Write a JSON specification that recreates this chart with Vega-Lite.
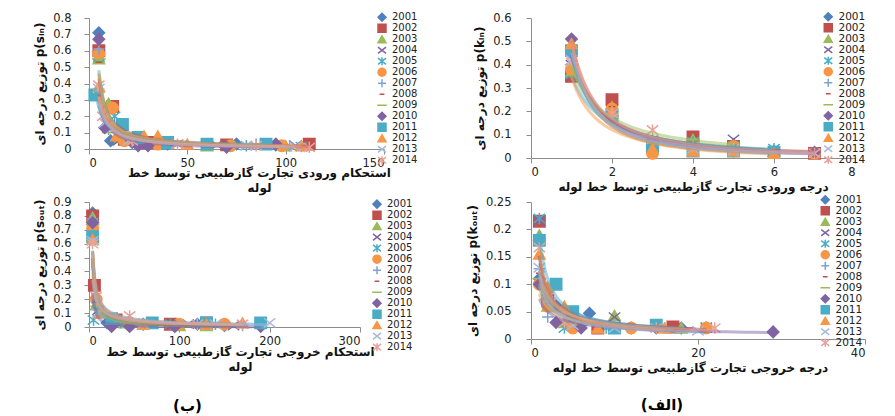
{
  "$schema": "https://vega.github.io/schema/vega-lite/v6.json",
  "background": "white",
  "padding": {"left": 33, "top": 11, "right": 0, "bottom": 0},
  "config": {
    "font": "DejaVu Sans",
    "view": {"stroke": null},
    "axis": {"grid": false, "domainColor": "#8c8c8c", "tickColor": "#8c8c8c", "tickSize": 5, "labelFont": "DejaVu Sans", "labelFontSize": 11.5, "labelColor": "#222", "labelOverlap": false, "titleFont": "DejaVu Sans", "titleFontSize": 12, "titleFontWeight": "bold", "titleColor": "#111", "format": "~r"},
    "axisX": {"labelPadding": 3, "titleLineHeight": 15},
    "axisY": {"labelPadding": 13, "titlePadding": 6},
    "legend": {"orient": "none", "title": null, "padding": 0, "labelFont": "DejaVu Sans", "labelFontSize": 10, "labelColor": "#222", "symbolSize": 64, "symbolStrokeWidth": 1.5, "rowPadding": 0, "clipHeight": 10.5, "labelOffset": 5},
    "title": {"font": "DejaVu Sans", "fontSize": 15, "fontWeight": "bold", "color": "#000"}
  },
  "datasets": {
    "a": [
      {"yr":"2001","x":5,"v":0.71},{"yr":"2001","x":11,"v":0.05},{"yr":"2001","x":22,"v":0.04},{"yr":"2001","x":40,"v":0.03},{"yr":"2001","x":75,"v":0.03},{"yr":"2001","x":95,"v":0.025},
      {"yr":"2002","x":5,"v":0.6},{"yr":"2002","x":12,"v":0.26},{"yr":"2002","x":18,"v":0.06},{"yr":"2002","x":30,"v":0.04},{"yr":"2002","x":70,"v":0.025},{"yr":"2002","x":112,"v":0.03},
      {"yr":"2003","x":5,"v":0.55},{"yr":"2003","x":10,"v":0.28},{"yr":"2003","x":16,"v":0.07},{"yr":"2003","x":28,"v":0.05},{"yr":"2003","x":60,"v":0.02},{"yr":"2003","x":100,"v":0.02},
      {"yr":"2004","x":5,"v":0.57},{"yr":"2004","x":9,"v":0.15},{"yr":"2004","x":15,"v":0.05},{"yr":"2004","x":32,"v":0.04},{"yr":"2004","x":65,"v":0.025},{"yr":"2004","x":105,"v":0.02},
      {"yr":"2005","x":5,"v":0.56},{"yr":"2005","x":13,"v":0.2},{"yr":"2005","x":20,"v":0.06},{"yr":"2005","x":38,"v":0.03},{"yr":"2005","x":80,"v":0.02},{"yr":"2005","x":108,"v":0.015},
      {"yr":"2006","x":5,"v":0.58},{"yr":"2006","x":12,"v":0.25},{"yr":"2006","x":18,"v":0.05},{"yr":"2006","x":35,"v":0.03},{"yr":"2006","x":72,"v":0.02},{"yr":"2006","x":98,"v":0.02},
      {"yr":"2007","x":5,"v":0.61},{"yr":"2007","x":10,"v":0.12},{"yr":"2007","x":22,"v":0.05},{"yr":"2007","x":42,"v":0.03},{"yr":"2007","x":85,"v":0.03},{"yr":"2007","x":102,"v":0.02},
      {"yr":"2008","x":5,"v":0.53},{"yr":"2008","x":10,"v":0.14},{"yr":"2008","x":20,"v":0.05},{"yr":"2008","x":40,"v":0.03},{"yr":"2008","x":80,"v":0.02},{"yr":"2008","x":110,"v":0.02},
      {"yr":"2009","x":5,"v":0.55},{"yr":"2009","x":10,"v":0.1},{"yr":"2009","x":18,"v":0.06},{"yr":"2009","x":35,"v":0.04},{"yr":"2009","x":70,"v":0.02},{"yr":"2009","x":100,"v":0.02},
      {"yr":"2010","x":5,"v":0.67},{"yr":"2010","x":8,"v":0.13},{"yr":"2010","x":25,"v":0.02},{"yr":"2010","x":30,"v":0.02},{"yr":"2010","x":70,"v":0.01},{"yr":"2010","x":95,"v":0.03},
      {"yr":"2011","x":3,"v":0.33},{"yr":"2011","x":17,"v":0.15},{"yr":"2011","x":25,"v":0.07},{"yr":"2011","x":40,"v":0.04},{"yr":"2011","x":60,"v":0.03},{"yr":"2011","x":90,"v":0.03},
      {"yr":"2012","x":5,"v":0.38},{"yr":"2012","x":14,"v":0.08},{"yr":"2012","x":28,"v":0.08},{"yr":"2012","x":35,"v":0.08},{"yr":"2012","x":50,"v":0.03},{"yr":"2012","x":108,"v":0.02},
      {"yr":"2013","x":5,"v":0.37},{"yr":"2013","x":8,"v":0.16},{"yr":"2013","x":20,"v":0.05},{"yr":"2013","x":45,"v":0.03},{"yr":"2013","x":80,"v":0.02},{"yr":"2013","x":105,"v":0.015},
      {"yr":"2014","x":5,"v":0.39},{"yr":"2014","x":7,"v":0.2},{"yr":"2014","x":22,"v":0.05},{"yr":"2014","x":45,"v":0.03},{"yr":"2014","x":85,"v":0.02},{"yr":"2014","x":112,"v":0.01}
    ],
    "b": [
      {"yr":"2001","x":1,"v":0.36},{"yr":"2001","x":2,"v":0.21},{"yr":"2001","x":3,"v":0.07},{"yr":"2001","x":4,"v":0.07},{"yr":"2001","x":5,"v":0.04},{"yr":"2001","x":6,"v":0.03},{"yr":"2001","x":7,"v":0.02},
      {"yr":"2002","x":1,"v":0.35},{"yr":"2002","x":2,"v":0.25},{"yr":"2002","x":3,"v":0.06},{"yr":"2002","x":4,"v":0.09},{"yr":"2002","x":5,"v":0.05},{"yr":"2002","x":7,"v":0.02},
      {"yr":"2003","x":1,"v":0.37},{"yr":"2003","x":2,"v":0.22},{"yr":"2003","x":3,"v":0.05},{"yr":"2003","x":4,"v":0.08},{"yr":"2003","x":5,"v":0.06},{"yr":"2003","x":6,"v":0.03},
      {"yr":"2004","x":1,"v":0.4},{"yr":"2004","x":2,"v":0.2},{"yr":"2004","x":3,"v":0.07},{"yr":"2004","x":4,"v":0.06},{"yr":"2004","x":5,"v":0.08},{"yr":"2004","x":6,"v":0.02},
      {"yr":"2005","x":1,"v":0.36},{"yr":"2005","x":2,"v":0.19},{"yr":"2005","x":3,"v":0.05},{"yr":"2005","x":4,"v":0.07},{"yr":"2005","x":5,"v":0.05},{"yr":"2005","x":6,"v":0.04},
      {"yr":"2006","x":1,"v":0.38},{"yr":"2006","x":2,"v":0.21},{"yr":"2006","x":3,"v":0.02},{"yr":"2006","x":4,"v":0.04},{"yr":"2006","x":5,"v":0.05},{"yr":"2006","x":7,"v":0.02},
      {"yr":"2007","x":1,"v":0.45},{"yr":"2007","x":2,"v":0.2},{"yr":"2007","x":3,"v":0.04},{"yr":"2007","x":4,"v":0.05},{"yr":"2007","x":5,"v":0.03},{"yr":"2007","x":6,"v":0.03},
      {"yr":"2008","x":1,"v":0.43},{"yr":"2008","x":2,"v":0.22},{"yr":"2008","x":3,"v":0.06},{"yr":"2008","x":4,"v":0.07},{"yr":"2008","x":5,"v":0.04},{"yr":"2008","x":6,"v":0.02},
      {"yr":"2009","x":1,"v":0.4},{"yr":"2009","x":2,"v":0.18},{"yr":"2009","x":3,"v":0.09},{"yr":"2009","x":4,"v":0.08},{"yr":"2009","x":5,"v":0.06},
      {"yr":"2010","x":1,"v":0.51},{"yr":"2010","x":2,"v":0.17},{"yr":"2010","x":3,"v":0.05},{"yr":"2010","x":4,"v":0.04},{"yr":"2010","x":5,"v":0.03},{"yr":"2010","x":7,"v":0.025},
      {"yr":"2011","x":1,"v":0.46},{"yr":"2011","x":2,"v":0.18},{"yr":"2011","x":3,"v":0.05},{"yr":"2011","x":4,"v":0.03},{"yr":"2011","x":5,"v":0.03},{"yr":"2011","x":6,"v":0.025},
      {"yr":"2012","x":1,"v":0.49},{"yr":"2012","x":2,"v":0.2},{"yr":"2012","x":3,"v":0.04},{"yr":"2012","x":4,"v":0.03},{"yr":"2012","x":5,"v":0.03},{"yr":"2012","x":6,"v":0.02},
      {"yr":"2013","x":1,"v":0.42},{"yr":"2013","x":2,"v":0.17},{"yr":"2013","x":3,"v":0.08},{"yr":"2013","x":4,"v":0.04},{"yr":"2013","x":5,"v":0.03},{"yr":"2013","x":7,"v":0.02},
      {"yr":"2014","x":1,"v":0.41},{"yr":"2014","x":2,"v":0.19},{"yr":"2014","x":3,"v":0.12},{"yr":"2014","x":4,"v":0.05},{"yr":"2014","x":5,"v":0.04},{"yr":"2014","x":7,"v":0.02}
    ],
    "c": [
      {"yr":"2001","x":4,"v":0.82},{"yr":"2001","x":20,"v":0.03},{"yr":"2001","x":60,"v":0.02},{"yr":"2001","x":120,"v":0.02},{"yr":"2001","x":150,"v":0.01},
      {"yr":"2002","x":4,"v":0.8},{"yr":"2002","x":6,"v":0.3},{"yr":"2002","x":30,"v":0.05},{"yr":"2002","x":90,"v":0.02},{"yr":"2002","x":130,"v":0.03},
      {"yr":"2003","x":4,"v":0.79},{"yr":"2003","x":8,"v":0.16},{"yr":"2003","x":40,"v":0.03},{"yr":"2003","x":100,"v":0.01},{"yr":"2003","x":130,"v":0.01},
      {"yr":"2004","x":4,"v":0.76},{"yr":"2004","x":10,"v":0.12},{"yr":"2004","x":50,"v":0.02},{"yr":"2004","x":110,"v":0.02},{"yr":"2004","x":160,"v":0.01},
      {"yr":"2005","x":4,"v":0.73},{"yr":"2005","x":5,"v":0.05},{"yr":"2005","x":35,"v":0.03},{"yr":"2005","x":90,"v":0.02},{"yr":"2005","x":140,"v":0.02},
      {"yr":"2006","x":4,"v":0.71},{"yr":"2006","x":8,"v":0.2},{"yr":"2006","x":45,"v":0.02},{"yr":"2006","x":100,"v":0.02},{"yr":"2006","x":150,"v":0.02},
      {"yr":"2007","x":4,"v":0.78},{"yr":"2007","x":10,"v":0.14},{"yr":"2007","x":55,"v":0.02},{"yr":"2007","x":120,"v":0.02},{"yr":"2007","x":170,"v":0.01},
      {"yr":"2008","x":4,"v":0.77},{"yr":"2008","x":7,"v":0.18},{"yr":"2008","x":40,"v":0.03},{"yr":"2008","x":110,"v":0.02},{"yr":"2008","x":155,"v":0.01},
      {"yr":"2009","x":4,"v":0.74},{"yr":"2009","x":9,"v":0.15},{"yr":"2009","x":50,"v":0.02},{"yr":"2009","x":115,"v":0.01},{"yr":"2009","x":160,"v":0.01},
      {"yr":"2010","x":4,"v":0.75},{"yr":"2010","x":25,"v":0.004},{"yr":"2010","x":45,"v":0.004},{"yr":"2010","x":95,"v":0.004},{"yr":"2010","x":190,"v":0.004},
      {"yr":"2011","x":4,"v":0.65},{"yr":"2011","x":25,"v":0.06},{"yr":"2011","x":70,"v":0.03},{"yr":"2011","x":130,"v":0.03},{"yr":"2011","x":190,"v":0.03},
      {"yr":"2012","x":4,"v":0.63},{"yr":"2012","x":12,"v":0.1},{"yr":"2012","x":60,"v":0.02},{"yr":"2012","x":130,"v":0.02},{"yr":"2012","x":170,"v":0.03},
      {"yr":"2013","x":4,"v":0.62},{"yr":"2013","x":10,"v":0.1},{"yr":"2013","x":60,"v":0.02},{"yr":"2013","x":140,"v":0.02},{"yr":"2013","x":200,"v":0.03},
      {"yr":"2014","x":4,"v":0.6},{"yr":"2014","x":8,"v":0.22},{"yr":"2014","x":45,"v":0.08},{"yr":"2014","x":120,"v":0.02},{"yr":"2014","x":170,"v":0.02}
    ],
    "d": [
      {"yr":"2001","x":1,"v":0.11},{"yr":"2001","x":3,"v":0.06},{"yr":"2001","x":7,"v":0.047},{"yr":"2001","x":12,"v":0.02},{"yr":"2001","x":18,"v":0.02},
      {"yr":"2002","x":1,"v":0.215},{"yr":"2002","x":2,"v":0.07},{"yr":"2002","x":5,"v":0.03},{"yr":"2002","x":8,"v":0.02},{"yr":"2002","x":17,"v":0.022},
      {"yr":"2003","x":1,"v":0.19},{"yr":"2003","x":2,"v":0.06},{"yr":"2003","x":4,"v":0.03},{"yr":"2003","x":10,"v":0.043},{"yr":"2003","x":18,"v":0.02},
      {"yr":"2004","x":1,"v":0.215},{"yr":"2004","x":2,"v":0.08},{"yr":"2004","x":5,"v":0.025},{"yr":"2004","x":10,"v":0.04},{"yr":"2004","x":21,"v":0.02},
      {"yr":"2005","x":1,"v":0.22},{"yr":"2005","x":2,"v":0.065},{"yr":"2005","x":4,"v":0.02},{"yr":"2005","x":9,"v":0.02},{"yr":"2005","x":21,"v":0.022},
      {"yr":"2006","x":1,"v":0.1},{"yr":"2006","x":2,"v":0.06},{"yr":"2006","x":5,"v":0.02},{"yr":"2006","x":12,"v":0.02},{"yr":"2006","x":21,"v":0.02},
      {"yr":"2007","x":1,"v":0.128},{"yr":"2007","x":2,"v":0.04},{"yr":"2007","x":5,"v":0.04},{"yr":"2007","x":10,"v":0.02},{"yr":"2007","x":16,"v":0.02},
      {"yr":"2008","x":1,"v":0.12},{"yr":"2008","x":2,"v":0.065},{"yr":"2008","x":6,"v":0.03},{"yr":"2008","x":10,"v":0.02},{"yr":"2008","x":19,"v":0.02},
      {"yr":"2009","x":1,"v":0.11},{"yr":"2009","x":3,"v":0.05},{"yr":"2009","x":6,"v":0.025},{"yr":"2009","x":11,"v":0.02},{"yr":"2009","x":17,"v":0.02},
      {"yr":"2010","x":1,"v":0.1},{"yr":"2010","x":3,"v":0.03},{"yr":"2010","x":6,"v":0.02},{"yr":"2010","x":15,"v":0.02},{"yr":"2010","x":29,"v":0.013},
      {"yr":"2011","x":1,"v":0.18},{"yr":"2011","x":3,"v":0.1},{"yr":"2011","x":5,"v":0.05},{"yr":"2011","x":10,"v":0.02},{"yr":"2011","x":15,"v":0.025},
      {"yr":"2012","x":1,"v":0.155},{"yr":"2012","x":2,"v":0.095},{"yr":"2012","x":4,"v":0.06},{"yr":"2012","x":8,"v":0.02},{"yr":"2012","x":16,"v":0.02},
      {"yr":"2013","x":1,"v":0.13},{"yr":"2013","x":2,"v":0.07},{"yr":"2013","x":5,"v":0.025},{"yr":"2013","x":10,"v":0.02},{"yr":"2013","x":20,"v":0.015},
      {"yr":"2014","x":1,"v":0.167},{"yr":"2014","x":2,"v":0.075},{"yr":"2014","x":4,"v":0.03},{"yr":"2014","x":15,"v":0.02},{"yr":"2014","x":22,"v":0.02}
    ]
  },
  "columns": 2,
  "spacing": {"row": 44, "column": 147},
  "bounds": "flush",
  "concat": [
    {
      "width": 295, "height": 131,
      "data": {"name": "a"},
      "encoding": {
        "x": {"field": "x", "type": "quantitative", "scale": {"domain": [0, 150]}, "axis": {"values": [0, 50, 100, 150], "labelOverlap": false, "title": ["استحکام ورودی تجارت گازطبیعی توسط خط", "لوله"], "titleX": 170, "titleY": 18.5}},
        "y": {"field": "v", "type": "quantitative", "scale": {"domain": [0, 0.8]}, "axis": {"values": [0, 0.1, 0.2, 0.3, 0.4, 0.5, 0.6, 0.7, 0.8], "labelOverlap": false, "title": "توزیع درجه ای p(sᵢₙ)"}}
      },
      "layer": [
        {
          "mark": {"type": "point", "size": 130, "strokeWidth": 1.5, "opacity": 1},
          "encoding": {
            "fill": {"field": "yr", "type": "nominal", "scale": {"range": ["#4F81BD","#C0504D","#9BBB59","#8064A2","#4BACC6","#F79646","#7EA1D6","#C0504D","#9BBB59","#8064A2","#4BACC6","#F79646","#A9B9DD","#E8A29B"]}, "legend": {"legendX": 288, "legendY": -6, "rowPadding": 0, "clipHeight": 10.5, "encode": {"symbols": {"update": {"size": {"value": 64}}}}}},
            "stroke": {"field": "yr", "type": "nominal", "scale": {"range": ["#4F81BD","#C0504D","#9BBB59","#8064A2","#4BACC6","#F79646","#7EA1D6","#C0504D","#9BBB59","#8064A2","#4BACC6","#F79646","#A9B9DD","#E8A29B"]}, "legend": {"legendX": 288, "legendY": -6, "rowPadding": 0, "clipHeight": 10.5, "encode": {"symbols": {"update": {"size": {"value": 64}}}}}},
            "shape": {"field": "yr", "type": "nominal", "scale": {"range": ["diamond","square","triangle-up","M-1,-0.8L1,0.8M-1,0.8L1,-0.8","M-1,-0.8L1,0.8M-1,0.8L1,-0.8M0,-1L0,1","circle","M-1,0L1,0M0,-1L0,1","M-0.6,0L0.6,0","M-1.2,0L1.2,0","diamond","square","triangle-up","M-1,-0.8L1,0.8M-1,0.8L1,-0.8","M-1,-0.8L1,0.8M-1,0.8L1,-0.8M0,-1L0,1"]}, "legend": {"legendX": 288, "legendY": -6, "rowPadding": 0, "clipHeight": 10.5, "encode": {"symbols": {"update": {"size": {"value": 64}}}}}}
          }
        },
        {
          "transform": [{"regression": "v", "on": "x", "groupby": ["yr"], "method": "pow"}],
          "mark": {"type": "line", "strokeWidth": 3, "opacity": 0.5},
          "encoding": {
            "color": {"field": "yr", "type": "nominal", "scale": {"range": ["#4F81BD","#C0504D","#9BBB59","#8064A2","#4BACC6","#F79646","#7EA1D6","#C0504D","#9BBB59","#8064A2","#4BACC6","#F79646","#A9B9DD","#E8A29B"]}, "legend": null}
          }
        }
      ],
      "resolve": {"scale": {"color": "independent"}}
    },
    {
      "width": 324, "height": 140,
      "data": {"name": "b"},
      "encoding": {
        "x": {"field": "x", "type": "quantitative", "scale": {"domain": [0, 8]}, "axis": {"values": [0, 2, 4, 6, 8], "labelOverlap": false, "title": "درجه ورودی تجارت گازطبیعی توسط خط لوله"}},
        "y": {"field": "v", "type": "quantitative", "scale": {"domain": [0, 0.6]}, "axis": {"values": [0, 0.1, 0.2, 0.3, 0.4, 0.5, 0.6], "labelOverlap": false, "title": "توزیع درجه ای p(kᵢₙ)", "labelPadding": 15}}
      },
      "layer": [
        {
          "mark": {"type": "point", "size": 130, "strokeWidth": 1.5, "opacity": 1},
          "encoding": {
            "fill": {"field": "yr", "type": "nominal", "scale": {"range": ["#4F81BD","#C0504D","#9BBB59","#8064A2","#4BACC6","#F79646","#7EA1D6","#C0504D","#9BBB59","#8064A2","#4BACC6","#F79646","#A9B9DD","#E8A29B"]}, "legend": {"legendX": 292, "legendY": -6.5, "labelFontSize": 10.5, "rowPadding": 0, "clipHeight": 10.5, "encode": {"symbols": {"update": {"size": {"value": 64}}}}}},
            "stroke": {"field": "yr", "type": "nominal", "scale": {"range": ["#4F81BD","#C0504D","#9BBB59","#8064A2","#4BACC6","#F79646","#7EA1D6","#C0504D","#9BBB59","#8064A2","#4BACC6","#F79646","#A9B9DD","#E8A29B"]}, "legend": {"legendX": 292, "legendY": -6.5, "labelFontSize": 10.5, "rowPadding": 0, "clipHeight": 10.5, "encode": {"symbols": {"update": {"size": {"value": 64}}}}}},
            "shape": {"field": "yr", "type": "nominal", "scale": {"range": ["diamond","square","triangle-up","M-1,-0.8L1,0.8M-1,0.8L1,-0.8","M-1,-0.8L1,0.8M-1,0.8L1,-0.8M0,-1L0,1","circle","M-1,0L1,0M0,-1L0,1","M-0.6,0L0.6,0","M-1.2,0L1.2,0","diamond","square","triangle-up","M-1,-0.8L1,0.8M-1,0.8L1,-0.8","M-1,-0.8L1,0.8M-1,0.8L1,-0.8M0,-1L0,1"]}, "legend": {"legendX": 292, "legendY": -6.5, "labelFontSize": 10.5, "rowPadding": 0, "clipHeight": 10.5, "encode": {"symbols": {"update": {"size": {"value": 64}}}}}}
          }
        },
        {
          "transform": [{"regression": "v", "on": "x", "groupby": ["yr"], "method": "pow"}],
          "mark": {"type": "line", "strokeWidth": 3, "opacity": 0.5},
          "encoding": {
            "color": {"field": "yr", "type": "nominal", "scale": {"range": ["#4F81BD","#C0504D","#9BBB59","#8064A2","#4BACC6","#F79646","#7EA1D6","#C0504D","#9BBB59","#8064A2","#4BACC6","#F79646","#A9B9DD","#E8A29B"]}, "legend": null}
          }
        }
      ],
      "resolve": {"scale": {"color": "independent"}}
    },
    {
      "width": 271, "height": 125,
      "data": {"name": "c"},
      "title": {"text": "(ب)", "orient": "bottom", "anchor": "middle", "offset": 27, "dx": -37},
      "encoding": {
        "x": {"field": "x", "type": "quantitative", "scale": {"domain": [0, 300]}, "axis": {"values": [0, 100, 200, 300], "labelOverlap": false, "title": ["استحکام خروجی تجارت گازطبیعی توسط خط", "لوله"], "titleX": 151, "titleY": 19}},
        "y": {"field": "v", "type": "quantitative", "scale": {"domain": [0, 0.9]}, "axis": {"values": [0, 0.1, 0.2, 0.3, 0.4, 0.5, 0.6, 0.7, 0.8, 0.9], "labelOverlap": false, "title": "توزیع درجه ای p(sₒᵤₜ)"}}
      },
      "layer": [
        {
          "mark": {"type": "point", "size": 130, "strokeWidth": 1.5, "opacity": 1},
          "encoding": {
            "fill": {"field": "yr", "type": "nominal", "scale": {"range": ["#4F81BD","#C0504D","#9BBB59","#8064A2","#4BACC6","#F79646","#7EA1D6","#C0504D","#9BBB59","#8064A2","#4BACC6","#F79646","#A9B9DD","#E8A29B"]}, "legend": {"legendX": 283, "legendY": -3, "rowPadding": 0, "clipHeight": 10.3, "encode": {"symbols": {"update": {"size": {"value": 64}}}}}},
            "stroke": {"field": "yr", "type": "nominal", "scale": {"range": ["#4F81BD","#C0504D","#9BBB59","#8064A2","#4BACC6","#F79646","#7EA1D6","#C0504D","#9BBB59","#8064A2","#4BACC6","#F79646","#A9B9DD","#E8A29B"]}, "legend": {"legendX": 283, "legendY": -3, "rowPadding": 0, "clipHeight": 10.3, "encode": {"symbols": {"update": {"size": {"value": 64}}}}}},
            "shape": {"field": "yr", "type": "nominal", "scale": {"range": ["diamond","square","triangle-up","M-1,-0.8L1,0.8M-1,0.8L1,-0.8","M-1,-0.8L1,0.8M-1,0.8L1,-0.8M0,-1L0,1","circle","M-1,0L1,0M0,-1L0,1","M-0.6,0L0.6,0","M-1.2,0L1.2,0","diamond","square","triangle-up","M-1,-0.8L1,0.8M-1,0.8L1,-0.8","M-1,-0.8L1,0.8M-1,0.8L1,-0.8M0,-1L0,1"]}, "legend": {"legendX": 283, "legendY": -3, "rowPadding": 0, "clipHeight": 10.3, "encode": {"symbols": {"update": {"size": {"value": 64}}}}}}
          }
        },
        {
          "transform": [{"regression": "v", "on": "x", "groupby": ["yr"], "method": "pow"}],
          "mark": {"type": "line", "strokeWidth": 3, "opacity": 0.5},
          "encoding": {
            "color": {"field": "yr", "type": "nominal", "scale": {"range": ["#4F81BD","#C0504D","#9BBB59","#8064A2","#4BACC6","#F79646","#7EA1D6","#C0504D","#9BBB59","#8064A2","#4BACC6","#F79646","#A9B9DD","#E8A29B"]}, "legend": null}
          }
        }
      ],
      "resolve": {"scale": {"color": "independent"}}
    },
    {
      "width": 334, "height": 137,
      "data": {"name": "d"},
      "title": {"text": "(الف)", "orient": "bottom", "anchor": "middle", "offset": 24, "dx": -36},
      "encoding": {
        "x": {"field": "x", "type": "quantitative", "scale": {"domain": [0, 40]}, "axis": {"values": [0, 20, 40], "labelOverlap": false, "title": "درجه خروجی تجارت گازطبیعی توسط خط لوله", "titleX": 159}},
        "y": {"field": "v", "type": "quantitative", "scale": {"domain": [0, 0.25]}, "axis": {"values": [0, 0.05, 0.1, 0.15, 0.2, 0.25], "labelOverlap": false, "title": "توزیع درجه ای p(kₒᵤₜ)", "labelPadding": 15}}
      },
      "layer": [
        {
          "mark": {"type": "point", "size": 130, "strokeWidth": 1.5, "opacity": 1},
          "encoding": {
            "fill": {"field": "yr", "type": "nominal", "scale": {"range": ["#4F81BD","#C0504D","#9BBB59","#8064A2","#4BACC6","#F79646","#7EA1D6","#C0504D","#9BBB59","#8064A2","#4BACC6","#F79646","#A9B9DD","#E8A29B"]}, "legend": {"legendX": 289, "legendY": -7.5, "labelFontSize": 10.5, "rowPadding": 0, "clipHeight": 10.5, "encode": {"symbols": {"update": {"size": {"value": 64}}}}}},
            "stroke": {"field": "yr", "type": "nominal", "scale": {"range": ["#4F81BD","#C0504D","#9BBB59","#8064A2","#4BACC6","#F79646","#7EA1D6","#C0504D","#9BBB59","#8064A2","#4BACC6","#F79646","#A9B9DD","#E8A29B"]}, "legend": {"legendX": 289, "legendY": -7.5, "labelFontSize": 10.5, "rowPadding": 0, "clipHeight": 10.5, "encode": {"symbols": {"update": {"size": {"value": 64}}}}}},
            "shape": {"field": "yr", "type": "nominal", "scale": {"range": ["diamond","square","triangle-up","M-1,-0.8L1,0.8M-1,0.8L1,-0.8","M-1,-0.8L1,0.8M-1,0.8L1,-0.8M0,-1L0,1","circle","M-1,0L1,0M0,-1L0,1","M-0.6,0L0.6,0","M-1.2,0L1.2,0","diamond","square","triangle-up","M-1,-0.8L1,0.8M-1,0.8L1,-0.8","M-1,-0.8L1,0.8M-1,0.8L1,-0.8M0,-1L0,1"]}, "legend": {"legendX": 289, "legendY": -7.5, "labelFontSize": 10.5, "rowPadding": 0, "clipHeight": 10.5, "encode": {"symbols": {"update": {"size": {"value": 64}}}}}}
          }
        },
        {
          "transform": [{"regression": "v", "on": "x", "groupby": ["yr"], "method": "pow"}],
          "mark": {"type": "line", "strokeWidth": 3, "opacity": 0.5},
          "encoding": {
            "color": {"field": "yr", "type": "nominal", "scale": {"range": ["#4F81BD","#C0504D","#9BBB59","#8064A2","#4BACC6","#F79646","#7EA1D6","#C0504D","#9BBB59","#8064A2","#4BACC6","#F79646","#A9B9DD","#E8A29B"]}, "legend": null}
          }
        }
      ],
      "resolve": {"scale": {"color": "independent"}}
    }
  ],
  "resolve": {"scale": {"fill": "independent", "stroke": "independent", "shape": "independent", "color": "independent"}, "legend": {"fill": "independent", "stroke": "independent", "shape": "independent", "color": "independent"}}
}
